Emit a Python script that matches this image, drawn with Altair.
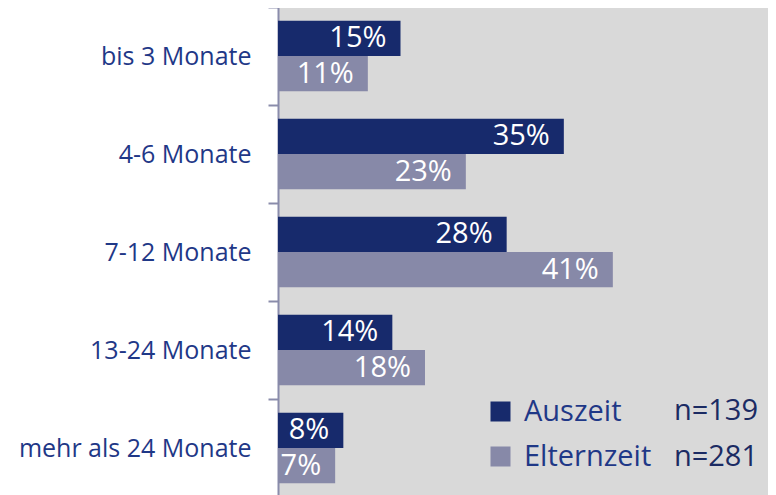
import altair as alt
import pandas as pd

categories = ["bis 3 Monate", "4-6 Monate", "7-12 Monate", "13-24 Monate", "mehr als 24 Monate"]
series = ["Auszeit", "Elternzeit"]
auszeit = [15, 35, 28, 14, 8]
elternzeit = [11, 23, 41, 18, 7]
n_values = ["n=139", "n=281"]

rows = []
for c, a, e in zip(categories, auszeit, elternzeit):
    rows.append({"Dauer": c, "Gruppe": "Auszeit", "Wert": a, "Label": f"{a}%"})
    rows.append({"Dauer": c, "Gruppe": "Elternzeit", "Wert": e, "Label": f"{e}%"})
df = pd.DataFrame(rows)

FONT = "Open Sans"
NAVY = "#172a6c"
GREY = "#8789a8"
TEXTBLUE = "#1f3887"

y_enc = alt.Y("Dauer:N", sort=categories,
              scale=alt.Scale(paddingInner=0, paddingOuter=0),
              axis=alt.Axis(title=None, labelFont=FONT, labelFontSize=25, labelColor=TEXTBLUE,
                            labelPadding=17, tickSize=10, tickColor="#8a8cab", tickWidth=2,
                            domainColor="#8a8cab", domainWidth=2, tickBand="extent",
                            labelLimit=300))
yoff = alt.YOffset("Gruppe:N", sort=series, scale=alt.Scale(paddingOuter=0.39, paddingInner=0))
x_enc = alt.X("Wert:Q", scale=alt.Scale(domain=[0, 60]), axis=None)

bars = alt.Chart(df).mark_bar().encode(
    y=y_enc, yOffset=yoff, x=x_enc,
    color=alt.Color("Gruppe:N", sort=series,
                    scale=alt.Scale(domain=series, range=[NAVY, GREY]),
                    legend=alt.Legend(title=None, orient="none", legendX=208, legendY=390,
                                      symbolType="square", symbolSize=400, symbolStrokeWidth=0,
                                      symbolOpacity=1,
                                      labelFont=FONT, labelFontSize=29, labelColor=TEXTBLUE,
                                      labelOffset=9, rowPadding=15)),
)

labels = alt.Chart(df).mark_text(align="right", baseline="middle", dx=-14, color="white",
                                 font=FONT, fontSize=29).encode(
    y=alt.Y("Dauer:N", sort=categories), yOffset=yoff, x=x_enc, text="Label:N"
)

ndf1 = pd.DataFrame({"t": [n_values[0]]})
ndf2 = pd.DataFrame({"t": [n_values[1]]})
n1 = alt.Chart(ndf1).mark_text(align="right", baseline="middle", font=FONT, fontSize=29,
                               color="#1b2b63").encode(x=alt.value(480), y=alt.value(404), text="t:N")
n2 = alt.Chart(ndf2).mark_text(align="right", baseline="middle", font=FONT, fontSize=29,
                               color="#1b2b63").encode(x=alt.value(480), y=alt.value(450), text="t:N")

chart = alt.layer(bars, labels, n1, n2).properties(
    width=490, height=490,
    autosize=alt.AutoSizeParams(type="none"),
    padding={"left": 270, "top": -1, "right": 0, "bottom": 0},
    background="white",
).configure_view(fill="#d9d9d9", stroke=None)

chart.save("out.html", embed_options={"renderer": "svg", "actions": False})
